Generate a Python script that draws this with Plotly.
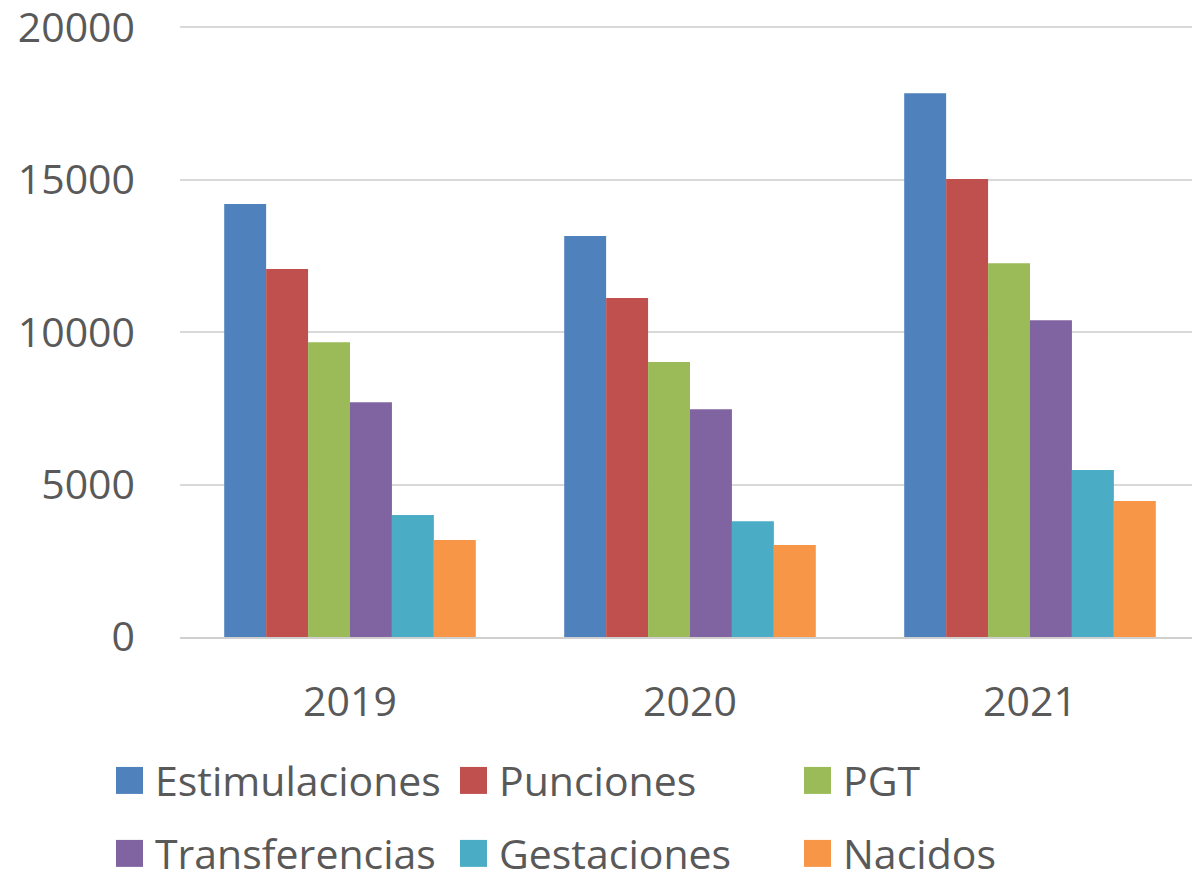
import plotly.graph_objects as go

years = ["2019", "2020", "2021"]
series = ["Estimulaciones", "Punciones", "PGT", "Transferencias", "Gestaciones", "Nacidos"]
estimulaciones = [14200, 13150, 17840]
punciones = [12070, 11120, 15020]
pgt = [9670, 9020, 12260]
transferencias = [7700, 7470, 10390]
gestaciones = [4000, 3800, 5480]
nacidos = [3180, 3020, 4460]
colors = ["#4F81BD", "#C0504D", "#9BBB59", "#8064A2", "#4BACC6", "#F79646"]
y_ticks = [0, 5000, 10000, 15000, 20000]

values = [estimulaciones, punciones, pgt, transferencias, gestaciones, nacidos]
font = "Open Sans"
grey = "#595959"

fig = go.Figure()
for name, vals, col in zip(series, values, colors):
    fig.add_trace(go.Bar(x=years, y=vals, name=name, marker=dict(color=col, line=dict(width=0)),
                         showlegend=False))

# page body adds an 8px offset; plot area on screen: x 180..1200, 0 at y=637, 30.5px per 1000
y_top = 20600
plot_h = 610 * y_top / 20000

def px_x(x):
    return (x - 180) / 1020

def px_y(y):
    return (637 - y) / plot_h

# hand-made legend, 3 columns x 2 rows
col_x = [116, 460, 804]
row_y = [780.5, 853.5]
shapes = []
annotations = []
for i, (name, col) in enumerate(zip(series, colors)):
    cx = col_x[i % 3]
    cy = row_y[i // 3]
    shapes.append(dict(type="rect", xref="paper", yref="paper",
                       x0=px_x(cx), x1=px_x(cx + 27), y0=px_y(cy + 13.5), y1=px_y(cy - 13.5),
                       fillcolor=col, line=dict(width=0)))
    annotations.append(dict(text=name, xref="paper", yref="paper", x=px_x(cx + 37), y=px_y(cy),
                            xanchor="left", yanchor="middle", showarrow=False,
                            font=dict(family=font, size=41, color=grey)))

fig.update_layout(
    width=1192, height=863,
    margin=dict(l=172, r=0, t=863 - 234 - plot_h, b=234),
    plot_bgcolor="white", paper_bgcolor="white",
    barmode="group", bargap=0.26, bargroupgap=0,
    font=dict(family=font, size=41, color=grey),
    shapes=shapes, annotations=annotations,
)
fig.update_yaxes(range=[0, y_top], tickvals=y_ticks, ticktext=[str(v) for v in y_ticks],
                 showgrid=True, gridcolor="#d9d9d9", gridwidth=2, automargin=False,
                 zeroline=False, showline=False, ticklabelstandoff=44, ticklabeloverflow="allow",
                 tickfont=dict(family=font, size=41, color=grey))
fig.update_xaxes(showline=True, linecolor="#d0d0d0", linewidth=2, ticks="", ticklabelstandoff=28,
                 automargin=False, tickfont=dict(family=font, size=41, color=grey))

fig.write_html("out.html")
